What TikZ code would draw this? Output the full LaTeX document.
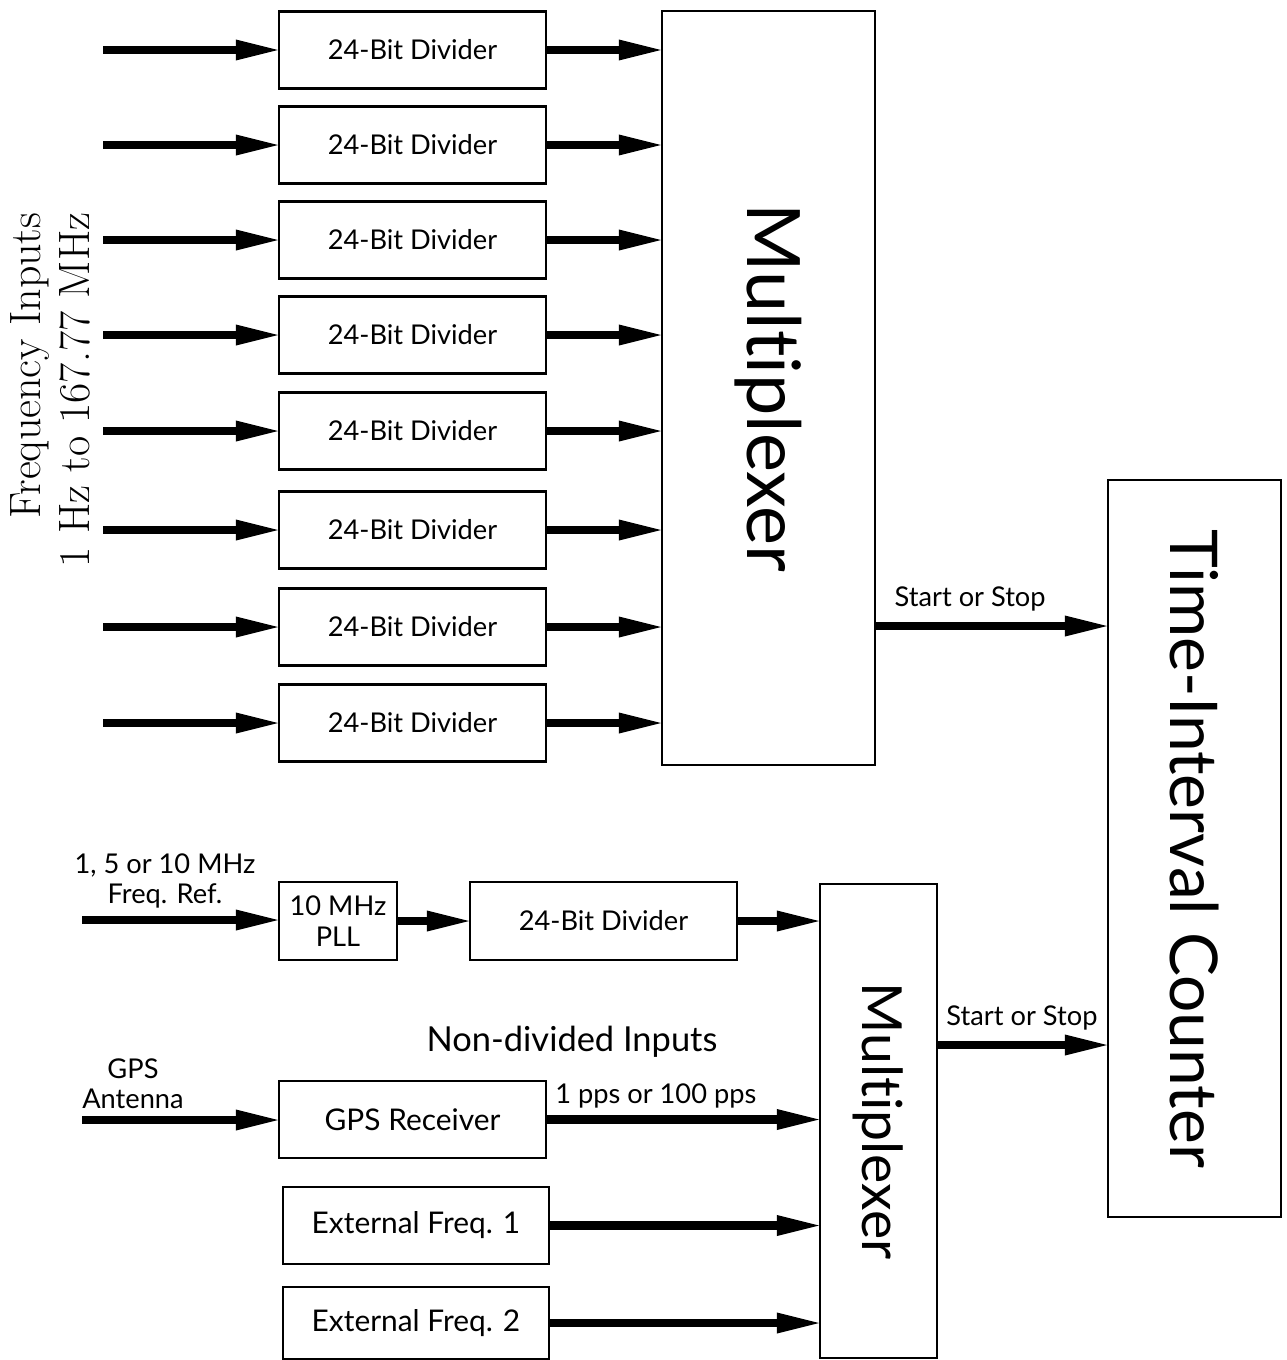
\documentclass[tikz,border=0pt]{standalone}
\usepackage{fontspec}
\newfontfamily\blkfont[Ligatures=NoCommon]{Lato}
\usetikzlibrary{arrows.meta}

\tikzset{
  blk/.style={draw, line width=1.2pt, inner sep=0pt, align=center,
    font=\blkfont\fontsize{15.5}{18}\selectfont},
  dvbox/.style={blk, minimum width=5.34cm, minimum height=1.54cm},
  bigbox/.style={blk, font=\blkfont\fontsize{17}{20}\selectfont},
  arr/.style={line width=5pt, -{Triangle[length=24pt,width=12pt,line width=0pt]}},
  lbl/.style={font=\blkfont\fontsize{15.5}{17}\selectfont, inner sep=1pt, align=center},
  bigtxt/.style={font=\blkfont\fontsize{42}{46}\selectfont, inner sep=0pt},
}

\begin{document}
\begin{tikzpicture}[x=0.02cm,y=-0.02cm]

  \useasboundingbox (0,0) rectangle (1286,1360);

  % divided inputs
  \node[dvbox] (dv1) at (412.5,50)  {24-Bit Divider};
  \node[dvbox] (dv2) at (412.5,145) {24-Bit Divider};
  \node[dvbox] (dv3) at (412.5,240) {24-Bit Divider};
  \node[dvbox] (dv4) at (412.5,335) {24-Bit Divider};
  \node[dvbox] (dv5) at (412.5,431) {24-Bit Divider};
  \node[dvbox] (dv6) at (412.5,530) {24-Bit Divider};
  \node[dvbox] (dv7) at (412.5,627) {24-Bit Divider};
  \node[dvbox] (dv8) at (412.5,723) {24-Bit Divider};

  \node[blk, minimum width=4.26cm, minimum height=15.08cm,
    label={[rotate=-90, bigtxt]center:Multiplexer}] (mux1) at (768.5,388) {};

  \node[blk, minimum width=3.46cm, minimum height=14.74cm,
    label={[rotate=-90, bigtxt, font=\blkfont\fontsize{37.5}{40}\selectfont]center:Time-Interval Counter}] (tic) at (1194.5,848.5) {};

  \node[rotate=90, align=right, inner sep=0pt,
    font=\fontsize{25}{28}\selectfont] (freq) at (50,390)
    {Frequency Inputs\\1 Hz to 167.77 MHz};

  \coordinate (in1) at (103,50);
  \coordinate (in2) at (103,145);
  \coordinate (in3) at (103,240);
  \coordinate (in4) at (103,335);
  \coordinate (in5) at (103,431);
  \coordinate (in6) at (103,530);
  \coordinate (in7) at (103,627);
  \coordinate (in8) at (103,723);

  \draw[arr] (in1) -- (dv1);
  \draw[arr] (in2) -- (dv2);
  \draw[arr] (in3) -- (dv3);
  \draw[arr] (in4) -- (dv4);
  \draw[arr] (in5) -- (dv5);
  \draw[arr] (in6) -- (dv6);
  \draw[arr] (in7) -- (dv7);
  \draw[arr] (in8) -- (dv8);

  \draw[arr] (dv1) -- (dv1 -| mux1.west);
  \draw[arr] (dv2) -- (dv2 -| mux1.west);
  \draw[arr] (dv3) -- (dv3 -| mux1.west);
  \draw[arr] (dv4) -- (dv4 -| mux1.west);
  \draw[arr] (dv5) -- (dv5 -| mux1.west);
  \draw[arr] (dv6) -- (dv6 -| mux1.west);
  \draw[arr] (dv7) -- (dv7 -| mux1.west);
  \draw[arr] (dv8) -- (dv8 -| mux1.west);

  \coordinate (so1) at (875,626);
  \draw[arr] (so1) -- (so1 -| tic.west)
    node[lbl, pos=0.41, above=5pt] {Start or Stop};

  % non-divided inputs
  \node[blk, minimum width=2.36cm, minimum height=1.56cm] (pll) at (338,921) {10 MHz\\PLL};
  \node[dvbox, minimum height=1.56cm] (dv9) at (603.5,921) {24-Bit Divider};
  \node[blk, minimum width=2.34cm, minimum height=9.48cm,
    label={[rotate=-90, bigtxt, font=\blkfont\fontsize{31.5}{34}\selectfont]center:Multiplexer}] (mux2) at (878.5,1121) {};

  \node[dvbox, bigbox] (gps) at (412.5,1119.5) {GPS Receiver};
  \node[dvbox, bigbox, minimum width=5.32cm] (ext1) at (416,1225.5) {External Freq. 1};
  \node[dvbox, bigbox, minimum width=5.32cm, minimum height=1.44cm] (ext2) at (416,1323) {External Freq. 2};

  \node[lbl] (refl) at (165,881) {1, 5 or 10 MHz\\Freq. Ref.};
  \node[lbl] (antl) at (133,1084) {GPS\\Antenna};
  \node[font=\blkfont\fontsize{19.6}{24}\selectfont] (ndl) at (572,1042) {Non-divided Inputs};

  \coordinate (ref) at (82,920);
  \coordinate (ant) at (82,1120);

  \draw[arr] (ref) -- (ref -| pll.west);
  \draw[arr] (pll) -- (dv9);
  \draw[arr] (dv9) -- (dv9 -| mux2.west);
  \draw[arr] (ant) -- (ant -| gps.west);
  \draw[arr] (gps) -- (gps -| mux2.west)
    node[lbl, pos=0.4, above=3pt] {1 pps or 100 pps};
  \draw[arr] (ext1) -- (ext1 -| mux2.west);
  \draw[arr] (ext2) -- (ext2 -| mux2.west);

  \coordinate (so2) at (937,1045);
  \draw[arr] (so2) -- (so2 -| tic.west)
    node[lbl, pos=0.5, above=5pt] {Start or Stop};

\end{tikzpicture}
\end{document}
